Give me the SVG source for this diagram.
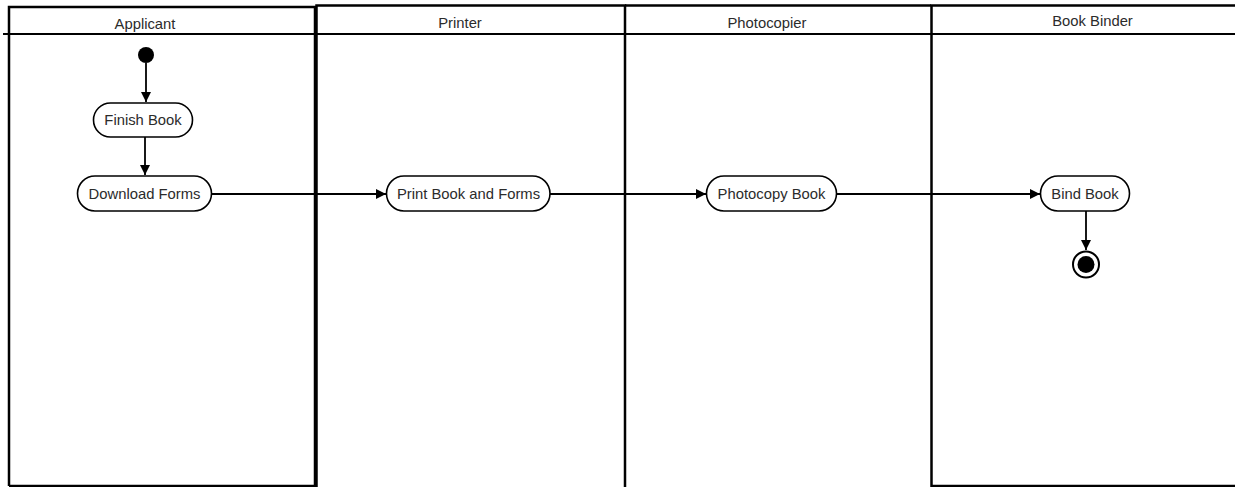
<svg xmlns="http://www.w3.org/2000/svg" width="1235" height="487" viewBox="0 0 1235 487">
<style>
.lane{fill:none;stroke:#000;stroke-width:2.5}
.hdr{font-family:"Liberation Sans",Arial,sans-serif;font-size:14.8px;fill:#2b2b2b;text-anchor:middle}
.act rect{fill:#fff;stroke:#000;stroke-width:1.6}
.act text{font-family:"Liberation Sans",Arial,sans-serif;font-size:14.8px;fill:#2b2b2b;text-anchor:middle}
.conn{stroke:#000;stroke-width:1.8;fill:none;marker-end:url(#ah)}
</style>
<defs>
<marker id="ah" viewBox="0 0 10 10" refX="10" refY="5" markerUnits="userSpaceOnUse" markerWidth="11" markerHeight="10" orient="auto">
<path d="M0,0 L10,5 L0,10 Z" fill="#000"/>
</marker>
</defs>
<rect x="0" y="0" width="1235" height="487" fill="#fff"/>
<g id="lanes">
<g id="lane-applicant">
<path class="lane" d="M9,486 V7 H315 V486 H9"/>
<text class="hdr" x="145" y="29">Applicant</text>
</g>
<g id="lane-printer">
<path class="lane" d="M316.5,487 V5.5 H625 V487"/>
<text class="hdr" x="460" y="27.5">Printer</text>
</g>
<g id="lane-photocopier">
<path class="lane" d="M625,5.5 H931"/>
<text class="hdr" x="767" y="28">Photocopier</text>
</g>
<g id="lane-bookbinder">
<path class="lane" d="M1235,5.5 H931.5 V486 H1235"/>
<text class="hdr" x="1092.5" y="26">Book Binder</text>
</g>
<line x1="3" y1="34" x2="1235" y2="34" stroke="#000" stroke-width="2"/>
</g>
<g id="connectors">
<line class="conn" x1="146" y1="63" x2="146" y2="102"/>
<line class="conn" x1="145" y1="137" x2="145" y2="175"/>
<line class="conn" x1="211.5" y1="194" x2="386" y2="194"/>
<line class="conn" x1="550" y1="194" x2="706" y2="194"/>
<line class="conn" x1="837" y1="194" x2="1040" y2="194"/>
<line class="conn" x1="1086" y1="211" x2="1086" y2="250"/>
</g>
<g id="start"><circle cx="146" cy="55" r="8" fill="#000"/></g>
<g id="finish-book" class="act"><rect x="93.5" y="103" width="99" height="34" rx="17"/><text x="143" y="125">Finish Book</text></g>
<g id="download-forms" class="act"><rect x="77.5" y="176" width="134" height="35" rx="17.5"/><text x="144.5" y="199">Download Forms</text></g>
<g id="print-book" class="act"><rect x="386.5" y="176" width="163.5" height="35" rx="17.5"/><text x="468.5" y="199">Print Book and Forms</text></g>
<g id="photocopy-book" class="act"><rect x="706.5" y="176" width="130" height="35" rx="17.5"/><text x="771.5" y="199">Photocopy Book</text></g>
<g id="bind-book" class="act"><rect x="1040.5" y="176" width="89" height="35" rx="17.5"/><text x="1085" y="199">Bind Book</text></g>
<g id="end"><circle cx="1086" cy="264.5" r="13" fill="#fff" stroke="#000" stroke-width="2"/><circle cx="1086" cy="264.5" r="8.5" fill="#000"/></g>
</svg>
